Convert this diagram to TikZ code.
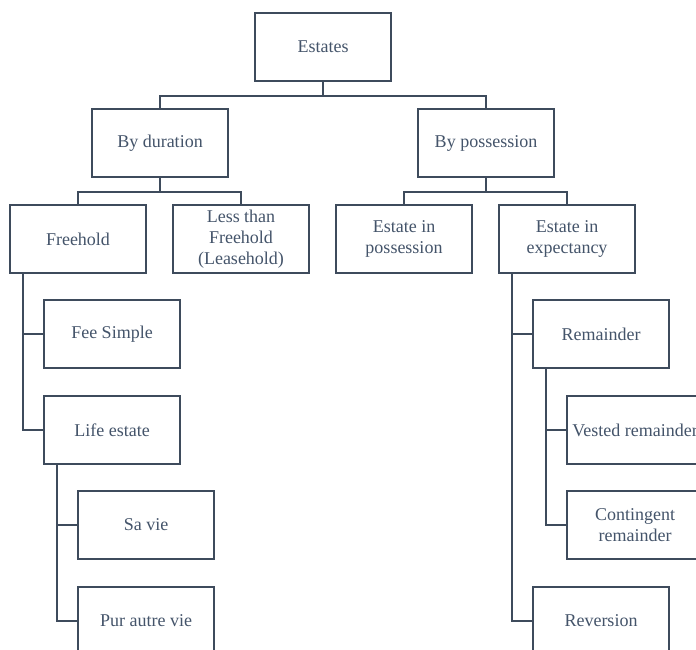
\documentclass[tikz,border=0pt]{standalone}
\usepackage{fontspec}
\setmainfont{Liberation Serif}
\usetikzlibrary{calc}
\definecolor{slate}{HTML}{44546A}
\definecolor{lineclr}{HTML}{3E4B5C}
\begin{document}
\begin{tikzpicture}[x=1pt,y=-1pt,
  box/.style={draw=lineclr, line width=2pt, fill=white, rectangle,
    minimum width=136pt, minimum height=68pt, inner sep=2pt,
    align=center, text=slate, font=\fontsize{18}{21}\selectfont},
  conn/.style={draw=lineclr, line width=2pt}]
\clip (0,0) rectangle (696,650);
% nodes
\node[box] (est) at (323,47) {Estates};
\node[box] (dur) at (160,143) {By duration};
\node[box] (pos) at (486,143) {By possession};
\node[box] (free) at (78,239) {Freehold};
\node[box] (less) at (241,239) {Less than\\Freehold\\(Leasehold)};
\node[box] (inpos) at (404,239) {Estate in\\possession};
\node[box] (exp) at (567,239) {Estate in\\expectancy};
\node[box] (fee) at (112,334) {Fee Simple};
\node[box] (life) at (112,430) {Life estate};
\node[box] (savie) at (146,525) {Sa vie};
\node[box] (pur) at (146,621) {Pur autre vie};
\node[box] (rem) at (601,334) {Remainder};
\node[box] (vest) at (635,430) {Vested remainder};
\node[box] (cont) at (635,525) {Contingent\\remainder};
\node[box] (rev) at (601,621) {Reversion};
% connectors
\coordinate (j0) at ($(est.south)+(0,14)$);
\draw[conn] (est.south) -- (j0);
\draw[conn] (dur.north) |- (j0) -| (pos.north);
\coordinate (j1) at ($(dur.south)+(0,14)$);
\draw[conn] (dur.south) -- (j1);
\draw[conn] (free.north) |- (j1) -| (less.north);
\coordinate (j2) at ($(pos.south)+(0,14)$);
\draw[conn] (pos.south) -- (j2);
\draw[conn] (inpos.north) |- (j2) -| (exp.north);
\coordinate (sf) at ($(free.south west)+(14,0)$);
\draw[conn] (sf) |- (fee.west);
\draw[conn] (sf) |- (life.west);
\coordinate (sl) at ($(life.south west)+(14,0)$);
\draw[conn] (sl) |- (savie.west);
\draw[conn] (sl) |- (pur.west);
\coordinate (se) at ($(exp.south west)+(14,0)$);
\draw[conn] (se) |- (rem.west);
\draw[conn] (se) |- (rev.west);
\coordinate (sr) at ($(rem.south west)+(14,0)$);
\draw[conn] (sr) |- (vest.west);
\draw[conn] (sr) |- (cont.west);
\end{tikzpicture}
\end{document}
